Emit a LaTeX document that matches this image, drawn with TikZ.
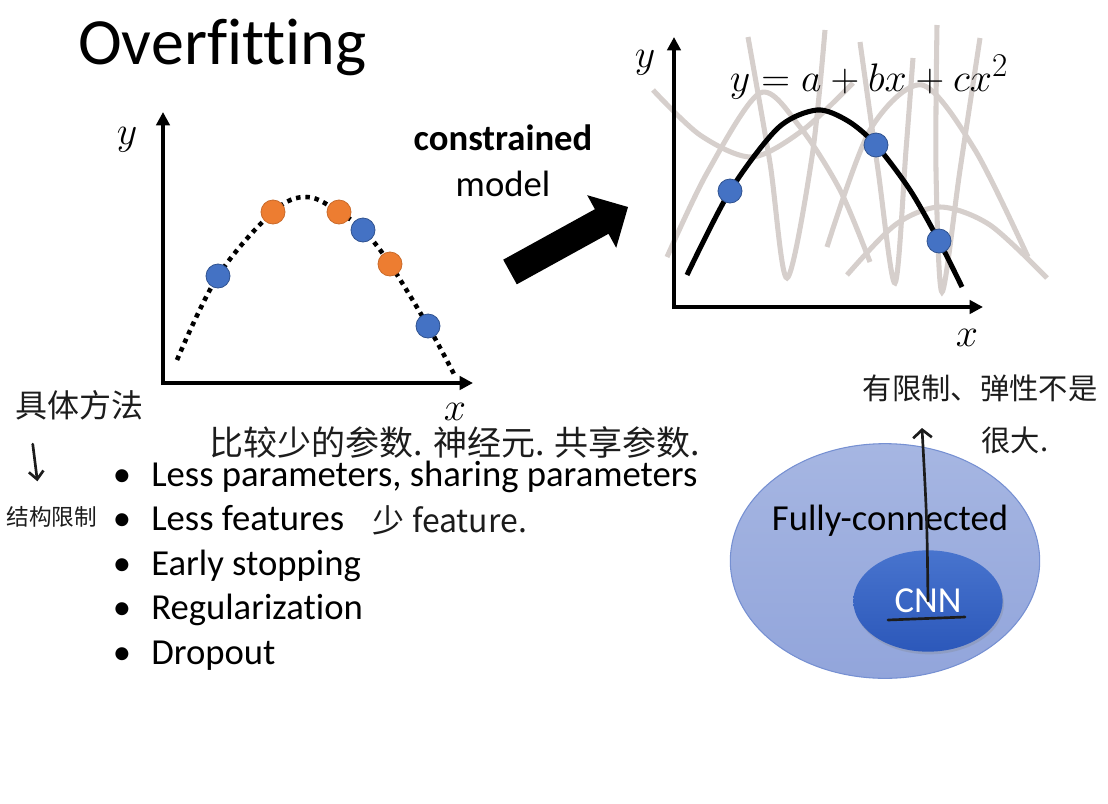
\documentclass[tikz,border=0pt]{standalone}
\usepackage{graphicx}
\usepackage{fontspec}
\setmainfont{Carlito}[Ligatures=CommonOff]
\newfontfamily\cjk{Noto Sans CJK SC}
\newcommand{\plotmath}[1]{\scalebox{1.2}{\fontsize{24.88}{30}\selectfont$#1$}}
\definecolor{dotblue}{RGB}{68,114,196}
\definecolor{dotblueedge}{RGB}{47,82,143}
\definecolor{dotorange}{RGB}{237,125,49}
\definecolor{fitgray}{RGB}{214,207,204}
\definecolor{fctop}{RGB}{166,182,226}
\definecolor{fcbottom}{RGB}{146,165,219}
\definecolor{fcedge}{RGB}{118,144,210}
\definecolor{cnntop}{RGB}{72,116,206}
\definecolor{cnnbottom}{RGB}{44,88,186}
\definecolor{inkblack}{RGB}{28,28,28}
\usetikzlibrary{positioning,shapes,arrows.meta,calc,shadows}

\begin{document}
\begin{tikzpicture}[x=0.75pt,y=-0.75pt,
    axis/.style={line width=3pt,-{Triangle[length=10pt,width=10pt]}},
    bluedot/.style={circle,fill=dotblue,draw=dotblueedge,line width=0.6pt,minimum size=18pt,inner sep=0pt},
    orangedot/.style={circle,fill=dotorange,draw=dotorange!85!black,line width=0.6pt,minimum size=18pt,inner sep=0pt},
    wiggle/.style={fitgray,line width=3.8pt},
    slidetext/.style={font=\fontsize{27.5}{32}\selectfont,inner sep=0pt},
    mathlabel/.style={inner sep=0pt},
    hand/.style={inkblack,line width=2pt,line cap=round},
    handtext/.style={font=\cjk\fontsize{24}{28}\selectfont,text=inkblack,inner sep=0pt}]
    \useasboundingbox (0,0) rectangle (1108,804);

    \node[anchor=base west,font=\fontsize{49.5}{56}\selectfont,inner sep=0pt] (title) at (78,64) {Overfitting};

    % left plot: overfitted curve
    \draw[axis] (163,385) -- (163,112);
    \draw[axis] (161,383) -- (473,383);
    \node[mathlabel] (lefty) at (127,140) {\plotmath{y}};
    \node[mathlabel] (leftx) at (455,412) {\plotmath{x}};
    \draw[line width=3.4pt,dash pattern=on 3.4pt off 3.6pt] plot[smooth,tension=0.6] coordinates {(177,360) (218,276) (273,212) (307,197) (339,212) (364,231) (390,264) (428,326) (455,376)};
    \foreach \px/\py/\kind [count=\i] in {218/276/bluedot,273/212/orangedot,339/212/orangedot,363/230/bluedot,390/264/orangedot,428/326/bluedot}
        \node[\kind] (leftdot\i) at (\px,\py) {};

    % arrow and caption
    \fill (503.2,259.7) -- (594.9,209.2) -- (587.2,195.2) -- (628,207) -- (616.2,247.8) -- (608.5,233.8) -- (516.8,284.3) -- cycle;
    \node[slidetext,anchor=base] (constrained) at (503,150) {\bfseries constrained};
    \node[slidetext,anchor=base] (model) at (503,196) {model};

    % right plot: other functions in gray
    \draw[wiggle] plot[smooth] coordinates {(653,90) (700,135) (752,157) (803,130) (853,83)};
    \draw[wiggle] plot[smooth] coordinates {(667,257) (707,173) (760,93) (800,127) (840,190) (870,262)};
    \draw[wiggle] plot[smooth] coordinates {(748,37) (770,163) (787,278) (812,157) (825,30)};
    \draw[wiggle] plot[smooth] coordinates {(827,247) (870,130) (922,85) (975,150) (1028,257)};
    \draw[wiggle] plot[smooth] coordinates {(847,275) (895,225) (940,207) (990,225) (1047,278)};
    \draw[wiggle] plot[smooth] coordinates {(860,42) (878,170) (895,283) (906,150) (913,58)};
    \draw[wiggle] plot[smooth] coordinates {(937,25) (936,170) (942,292) (960,170) (980,38)};

    \draw[axis] (674,309) -- (674,37);
    \draw[axis] (672,307) -- (983,307);
    \node[mathlabel] (righty) at (645,63) {\plotmath{y}};
    \node[mathlabel] (rightx) at (967,338) {\plotmath{x}};
    \node[mathlabel] (equation) at (869,77) {\plotmath{y=a+bx+cx^2}};
    \draw[line width=3.8pt] plot[smooth] coordinates {(687,275) (730,191) (778,128) (817,110) (848,121) (876,145) (910,190) (939,241) (962,287)};
    \foreach \px/\py [count=\i] in {730/191,876/145,939/241}
        \node[bluedot] (rightdot\i) at (\px,\py) {};

    % ways to avoid overfitting
    \foreach \line [count=\i] in {{Less parameters, sharing parameters},Less features,Early stopping,Regularization,Dropout} {
        \node[slidetext,anchor=base] (bullet\i) at (122,{486+44.5*(\i-1)}) {•};
        \node[slidetext,anchor=base west] (item\i) at (151,{486+44.5*(\i-1)}) {\line};
    }

    % model sets
    \node[ellipse,minimum width=232pt,minimum height=176pt,draw=fcedge,line width=0.8pt,top color=fctop,bottom color=fcbottom] (fc) at (885,561) {};
    \node[slidetext,anchor=base] (fclabel) at (890,530) {Fully-connected};
    \node[ellipse,minimum width=112pt,minimum height=76pt,inner sep=0pt,top color=cnntop,bottom color=cnnbottom,text=white,font=\fontsize{27.5}{32}\selectfont,drop shadow={opacity=0.25,shadow xshift=1pt,shadow yshift=-2pt}] (cnn) at (928,601) {CNN};

    % handwritten notes
    \node[handtext] (method) at (80,405) {具体方法};
    \node[handtext,font=\cjk\fontsize{17}{20}\selectfont] (structure) at (52,517) {结构限制};
    \draw[hand,-{Straight Barb[length=6pt,width=11pt]}] ($(method.south west)+(17,24)$) -- ($(structure.north west)+(31,-25)$);
    \node[handtext,font=\cjk\fontsize{25.5}{30}\selectfont] (paramnote) at (455,443) {比较少的参数. 神经元. 共享参数.};
    \node[handtext] (featnote) at (450,520) {少 feature.};
    \node[handtext,font=\cjk\fontsize{22}{26}\selectfont] (limitnote) at (980,388) {有限制、弹性不是};
    \node[handtext,font=\cjk\fontsize{22}{26}\selectfont] (limitmore) at (1015,440) {很大.};
    \coordinate (limittip) at (922,428);
    \draw[hand,-{Straight Barb[length=6pt,width=14pt]}] (cnn.center) .. controls (927,520) .. (limittip);
    \draw[hand] ($(cnn.center)+(-40,19)$) -- ($(cnn.center)+(37,16)$);
\end{tikzpicture}
\end{document}
